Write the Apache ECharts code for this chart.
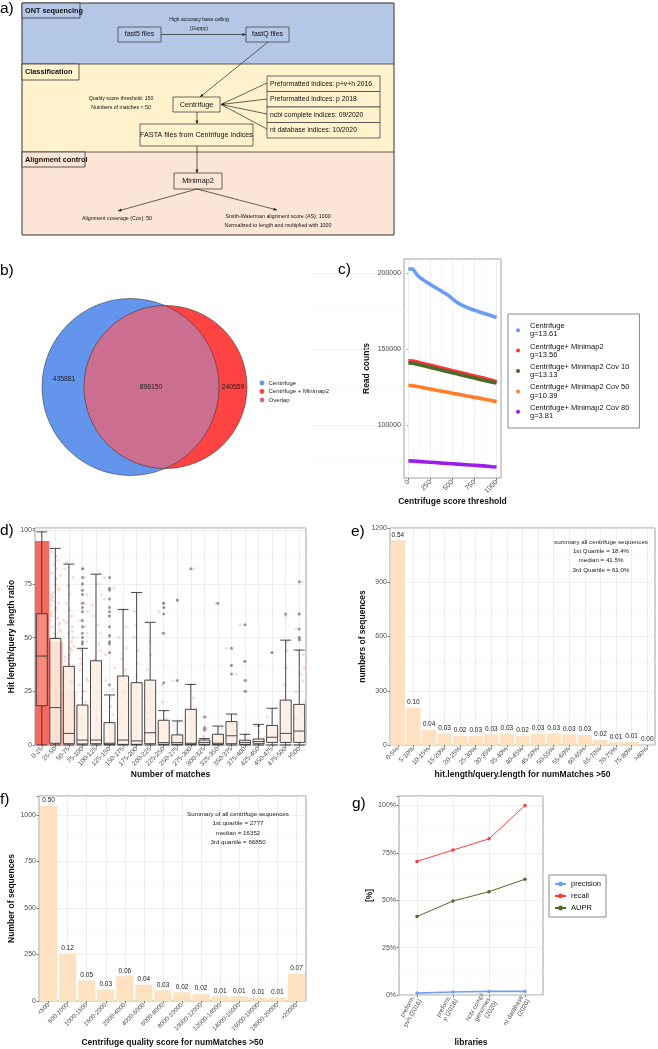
<!DOCTYPE html>
<html><head><meta charset="utf-8">
<script src="https://cdn.jsdelivr.net/npm/echarts@6/dist/echarts.min.js"></script>
<style>html,body{margin:0;padding:0;background:#fff}#c{width:658px;height:1049px}</style>
</head><body><div id="c"></div><script>
// ---------------- DATA ----------------
// panel b (Venn)
const vennCounts = [435881, 896150, 240559];
const vennLegend = ['Centrifuge', 'Centrifuge + Minimap2', 'Overlap'];
// panel c
const cThreshold = [0,50,100,150,200,250,300,350,400,450,500,550,600,650,700,750,800,850,900,950,1000];
const cNames = ['Centrifuge\ng=13.61','Centrifuge+ Minimap2\ng=13.56','Centrifuge+ Minimap2 Cov 10\ng=13.13','Centrifuge+ Minimap2 Cov 50\ng=10.39','Centrifuge+ Minimap2 Cov 80\ng=3.81'];
const cCentrifuge = [203000,203000,199000,196500,194500,192800,191000,189300,187500,185800,183300,181000,179300,178000,176800,175800,174800,173900,173000,172000,171100];
const cMinimap2 = [142500,142400,141700,141000,140300,139600,138900,138200,137500,136800,136100,135400,134700,134000,133300,132600,131900,131200,130400,129600,128800];
const cCov10 = [141200,141000,140300,139600,138900,138200,137500,136800,136100,135400,134700,134000,133300,132600,131900,131200,130500,129800,129100,128500,127900];
const cCov50 = [126300,126200,125700,125100,124500,124000,123400,122900,122300,121800,121200,120700,120200,119600,119100,118500,118000,117400,116900,116300,115700];
const cCov80 = [76700,76600,76400,76200,76000,75800,75600,75400,75200,75000,74800,74600,74400,74200,74000,73800,73600,73400,73200,72900,72700];
const cXTicks = [0,250,500,750,1000];
const cYTicks = [100000,150000,200000];
// panel d
const dCats = ['0-25','25-50','50-75','75-100','100-125','125-150','150-175','175-200','200-225','225-250','250-275','275-300','300-325','325-350','350-375','375-400','425-450','450-475','475-500','>500'];
const dMin = [0,0,0,0,0,0,0,0,0,0,0,0,0,0,0,0,0,0,0,0];
const dQ1 = [18.3,0.8,0.6,0.5,0.6,0.3,0.3,0.3,0.6,0.3,0.3,0.3,0.3,0.3,0.6,0.3,0.6,1.2,1.2,1.2];
const dMed = [41.4,17.4,5.4,2.3,2.3,0.8,2.3,1.9,5.7,1.1,1.1,0.8,1.2,0.8,4.3,1.2,1.6,3.6,5.4,6.5];
const dQ3 = [61.1,49.6,36.6,18.6,39.2,10.4,32.1,29.0,30.2,11.5,4.7,16.6,2.3,5.0,10.9,2.2,2.8,9.1,20.9,18.9];
const dMax = [99.2,91.5,84.2,45.0,79.5,23.3,63.1,71.0,57.1,16.0,11.2,28.2,3.0,8.8,14.4,5.0,9.6,17.1,48.8,44.2];
const dCloud = [95,48,25,0,0,0,0,0,0,0,0,0,0,0,0,0,0,0,0,0];
const dJitter = [
 [],
 [50,52,54,55,57,58,60,61,63,64,66,67,69,70,72,73,75,77,78,80,82,84,86,88,90,56,62,68,74,53,59,65,71,79],
 [26,28,30,32,34,36,38,40,42,44,46,48,50,53,55,58,60,63,66,70,74,78,82,85,29,33,37,41,45,52,57,31,39],
 [5,8,12,15,18,22,25,28,31,35,40,44,48,52,55,58,62,66,70,74,78,82,10,20,30,38],
 [4,8,12,16,20,24,27,30,33,36,40,44,47,52,56,60,65,70,75,80,14,22,34],
 [3,6,10,14,18,22,26,30,36,42,50,60,68,73,78],
 [5,10,15,20,25,30,35,40,45,50,55,63,12,28],
 [4,8,14,20,26,32,38,44,50,56,62,70,18],
 [5,10,15,22,28,35,42,48,57,12],
 [3,8,12,16,20,28,52,62,64,66],
 [2,5,9,11,30,67],
 [3,8,12,17,22,28,82],
 [1,4,7,8,13],
 [2,5,8,66],
 [3,7,10,14,33,37,45],
 [1,3,5,25,30,39,56],
 [1,3,6,9],
 [2,5,9,13,17,43],
 [3,8,14,20,28,36,44,48,60],
 [2,6,10,15,20,25,30,36,42,44,49,54,61,76,4,12,33]
];
const dOutliers = [[],[],[],[47,48,50,52,55,58,62,64,66,70,72,75,78,82],[],[28,43,47,48,51,55,60,62,64,68,72,73,78],[],[],[],[29,52,61,64,66],[30,67.5],[82],[7,8,13],[66],[33,37,45],[25,30,39,56],[9],[43],[61],[49,50,54,61,76]];
// panel e
const eCats = ['0-5%','5-10%','10-15%','15-20%','20-25%','25-30%','30-35%','35-40%','40-45%','45-50%','50-55%','55-60%','60-65%','65-70%','70-75%','75-80%','>80%'];
const eCounts = [1132,206,83,63,50,50,59,63,50,63,63,59,55,28,15,17,1];
const eShares = ['0.54','0.10','0.04','0.03','0.02','0.03','0.03','0.03','0.02','0.03','0.03','0.03','0.03','0.02','0.01','0.01','0.00'];
const eNote = ['summary all centrifuge sequences','1st Quartile = 18.4%','median = 41.5%','3rd Quartile = 61.0%'];
// panel f
const fCats = ['<500','500-1000','1000-1500','1500-2000','2000-4000','4000-6000','6000-8000','8000-10000','10000-12000','12000-14000','14000-16000','16000-18000','18000-20000','>20000'];
const fCounts = [1048,255,110,61,133,88,57,47,38,25,25,18,18,147];
const fShares = ['0.50','0.12','0.05','0.03','0.06','0.04','0.03','0.02','0.02','0.01','0.01','0.01','0.01','0.07'];
const fNote = ['Summary of all centrifuge sequences','1st quartile = 2777','median = 16352','3rd quartile = 66850'];
// panel g
const gCats = ['preform.\npvh (2016)','preform.\np (2018)','ncbi compl\ngenomes\n(2020)','nt database\n(2020)'];
const gPrecision = [0.010,0.016,0.019,0.019];
const gRecall = [0.705,0.765,0.824,1.0];
const gAUPR = [0.414,0.496,0.545,0.611];

// ---------------- STYLE HELPERS ----------------
const FONT = '"Liberation Sans", Arial, sans-serif';
const AX = '#4d4d4d';
const GRIDC = '#e3e3e3';
const MINC = '#f1f1f1';
const BORDER = '#8c8c8c';
const titleStyle = {fontSize: 8.5, fontWeight: 'bold', color: '#111', fontFamily: FONT};

function T(x, y, text, size, o) {
  o = o || {};
  return {type: 'text', x: x, y: y, z: 10, style: {text: text, fontSize: size, fontFamily: o.ff || FONT,
    fontWeight: o.bold ? 'bold' : 'normal', fill: o.fill || '#111', align: o.align || 'center',
    verticalAlign: 'middle'}};
}
function R(x, y, w, h, fill, stroke, lw) {
  return {type: 'rect', shape: {x: x, y: y, width: w, height: h}, style: {fill: fill || 'none', stroke: stroke || 'none', lineWidth: lw || 0.8}};
}
function L(x1, y1, x2, y2, arrow) {
  const out = [{type: 'line', shape: {x1: x1, y1: y1, x2: x2, y2: y2}, style: {stroke: '#222', lineWidth: 0.7}}];
  if (arrow) {
    const a = Math.atan2(y2 - y1, x2 - x1), Ln = 3.5, W = 1.5;
    out.push({type: 'polygon', shape: {points: [[x2, y2],
      [x2 - Ln * Math.cos(a) + W * Math.sin(a), y2 - Ln * Math.sin(a) - W * Math.cos(a)],
      [x2 - Ln * Math.cos(a) - W * Math.sin(a), y2 - Ln * Math.sin(a) + W * Math.cos(a)]]}, style: {fill: '#222'}});
  }
  return out;
}

// ---------------- GRAPHIC: panel a (flowchart) ----------------
const G = [];
G.push(R(22, 3, 372, 61, '#b4c7e7'));
G.push(R(22, 64, 372, 88, '#fff2cc'));
G.push(R(22, 152, 372, 83, '#fbe5d6'));
G.push(R(22, 3, 372, 232, null, '#333', 1));
G.push(...L(22, 64, 394, 64), ...L(22, 152, 394, 152));
G.push(R(22, 3, 58, 15, '#b4c7e7', '#333', 0.8), T(25, 10.5, 'ONT sequencing', 7.3, {bold: 1, align: 'left'}));
G.push(R(22, 64, 57, 16, '#fff2cc', '#333', 0.8), T(25, 72, 'Classification', 7.3, {bold: 1, align: 'left'}));
G.push(R(22, 152, 63, 15, '#fbe5d6', '#333', 0.8), T(25, 159.5, 'Alignment control', 7.3, {bold: 1, align: 'left'}));
G.push(R(118, 27, 43, 15, '#b4c7e7', '#444', 0.8), T(139.5, 34.5, 'fast5 files', 7));
G.push(R(246, 27, 43, 15, '#b4c7e7', '#444', 0.8), T(267.5, 34.5, 'fastQ files', 7));
G.push(...L(161, 34.5, 246, 34.5, true));
G.push(T(199, 19.5, 'High accuracy base calling', 5), T(199, 28.5, '(Guppy)', 5));
G.push(...L(268, 42, 200, 97, true));
G.push(R(173, 97, 47, 15, '#fff2cc', '#444', 0.8), T(196.5, 104.5, 'Centrifuge', 7.3));
const idx = ['Preformatted indices: p+v+h 2016', 'Preformatted indices: p 2018', 'ncbi complete indices: 09/2020', 'nt database indices: 10/2020'];
const idxY = [76, 91.5, 107, 122.5];
idx.forEach((t, i) => { G.push(R(267, idxY[i], 113, 15.5, '#fff2cc', '#444', 0.8), T(270, idxY[i] + 7.8, t, 6.8, {align: 'left'})); });
[83, 99, 114, 129].forEach(y => G.push(...L(267, y, 221, 104.5, y === 99)));
G.push(T(121, 99, 'Quality score threshold: 150', 5.2), T(121, 108, 'Numbers of matches < 50', 5.2));
G.push(...L(197, 112, 197, 124, true));
G.push(R(140, 124, 113, 22, '#fff2cc', '#444', 0.8), T(196.5, 135, 'FASTA files from Centrifuge indices', 7.2));
G.push(...L(197, 146, 197, 173, true));
G.push(R(174, 173, 48, 16, '#fbe5d6', '#444', 0.8), T(198, 181, 'Minimap2', 7.3));
G.push(...L(197, 189, 118, 211, true), ...L(197, 189, 277, 210, true));
G.push(T(117, 219, 'Alignment coverage (Cov): 50', 5.3));
G.push(T(278, 217, 'Smith-Waterman alignment score (AS): 1000', 5.3), T(278, 226, 'Normalized to length and multiplied with 1000', 5.3));

// ---------------- GRAPHIC: panel b (Venn) ----------------
const vb = {cx: 130.5, cy: 387, r: 88.5}, vr = {cx: 165.5, cy: 387, r: 81.5};
function lens() {
  const d = vr.cx - vb.cx, a = (d * d + vb.r * vb.r - vr.r * vr.r) / (2 * d), h = Math.sqrt(vb.r * vb.r - a * a), ix = vb.cx + a;
  const pts = [];
  const tR = Math.atan2(-h, ix - vr.cx), bR = Math.atan2(h, ix - vr.cx) - 2 * Math.PI;
  for (let i = 0; i <= 80; i++) { const t = tR + (bR - tR) * i / 80; pts.push([vr.cx + vr.r * Math.cos(t), vr.cy + vr.r * Math.sin(t)]); }
  const bB = Math.atan2(h, a), tB = Math.atan2(-h, a);
  for (let i = 0; i <= 80; i++) { const t = bB + (tB - bB) * i / 80; pts.push([vb.cx + vb.r * Math.cos(t), vb.cy + vb.r * Math.sin(t)]); }
  return pts;
}
G.push({type: 'circle', shape: {cx: vb.cx, cy: vb.cy, r: vb.r}, style: {fill: '#6495ed'}});
G.push({type: 'circle', shape: {cx: vr.cx, cy: vr.cy, r: vr.r}, style: {fill: '#ff4242'}});
G.push({type: 'polygon', shape: {points: lens()}, style: {fill: '#cc6e8f'}});
G.push({type: 'circle', shape: {cx: vb.cx, cy: vb.cy, r: vb.r}, style: {fill: 'none', stroke: '#3a3a3a', lineWidth: 0.6}});
G.push({type: 'circle', shape: {cx: vr.cx, cy: vr.cy, r: vr.r}, style: {fill: 'none', stroke: '#3a3a3a', lineWidth: 0.6}});
G.push(T(64, 379, String(vennCounts[0]), 6.8, {fill: '#222'}), T(151, 387, String(vennCounts[1]), 6.8, {fill: '#222'}), T(233, 387, String(vennCounts[2]), 6.8, {fill: '#222'}));
const vCol = ['#6495ed', '#ff4242', '#cc6e8f'];
[383, 391.5, 400].forEach((y, i) => {
  G.push({type: 'circle', shape: {cx: 262, cy: y, r: 2.4}, style: {fill: vCol[i]}});
  G.push(T(268.5, y, vennLegend[i], 6, {align: 'left', fill: '#222'}));
});

// panel labels
[['a)', 0, 9], ['b)', 0, 271], ['c)', 338, 270], ['d)', 0, 531], ['e)', 351, 532], ['f)', 0, 800], ['g)', 352, 804]]
  .forEach(p => G.push(T(p[1], p[2], p[0], 15.5, {align: 'left', fill: '#000'})));
// annotations e / f
eNote.forEach((t, i) => G.push(T(601, 542 + i * 9.3, t, 6.2, {fill: '#222'})));
fNote.forEach((t, i) => G.push(T(238, 814 + i * 9.4, t, 6.2, {fill: '#222'})));

// ---------------- AXES ----------------
const plain = v => String(v);
const lblBase = {color: AX, fontSize: 7, fontFamily: FONT};
const tickBase = {show: true, length: 2.5, lineStyle: {color: '#333', width: 0.6}};
function catMain(grid, data, rot, name, gap, fs) {
  return {gridIndex: grid, type: 'category', data: data, position: 'bottom', axisLine: {show: false},
    axisTick: Object.assign({alignWithLabel: true, interval: 0}, tickBase),
    axisLabel: Object.assign({}, lblBase, {interval: 0, rotate: rot, fontSize: fs || 6.5, margin: 3, lineHeight: 7.5}),
    splitLine: {show: false}, name: name, nameLocation: 'middle', nameGap: gap, nameTextStyle: titleStyle};
}
function catGridAxis(grid, data, h, extra) {
  return Object.assign({gridIndex: grid, type: 'category', data: data, position: 'top', axisLine: {show: false}, axisLabel: {show: false},
    axisTick: {show: true, inside: true, alignWithLabel: true, interval: 0, length: h, lineStyle: {color: GRIDC, width: 0.6}},
    splitLine: {show: false}}, extra || {});
}
function valY(grid, min, max, interval, name, gap, fmt) {
  return {gridIndex: grid, type: 'value', min: min, max: max, interval: interval, axisLine: {show: false},
    axisTick: tickBase, axisLabel: Object.assign({}, lblBase, {margin: 3, formatter: fmt}),
    splitLine: {show: true, lineStyle: {color: GRIDC, width: 0.6}},
    minorTick: {show: false, splitNumber: 2}, minorSplitLine: {show: true, lineStyle: {color: MINC, width: 0.5}},
    name: name, nameLocation: 'middle', nameGap: gap, nameRotate: 90, nameTextStyle: titleStyle};
}

const xAxis = [
  // 0: c main
  {gridIndex: 0, type: 'value', min: -50, max: 1050, axisLine: {show: false},
   axisTick: Object.assign({customValues: cXTicks}, tickBase),
   axisLabel: Object.assign({}, lblBase, {customValues: cXTicks, rotate: 45, margin: 3, formatter: plain}),
   splitLine: {show: false}, name: 'Centrifuge score threshold', nameLocation: 'middle', nameGap: 18, nameTextStyle: titleStyle},
  // 1: c major vertical grid
  {gridIndex: 0, type: 'value', min: -50, max: 1050, position: 'top', axisLine: {show: false}, axisLabel: {show: false}, splitLine: {show: false},
   axisTick: {show: true, inside: true, length: 219, customValues: cXTicks, lineStyle: {color: GRIDC, width: 0.6}}},
  // 2: c minor vertical grid
  {gridIndex: 0, type: 'value', min: -50, max: 1050, position: 'top', axisLine: {show: false}, axisLabel: {show: false}, splitLine: {show: false},
   axisTick: {show: true, inside: true, length: 219, customValues: [125, 375, 625, 875], lineStyle: {color: MINC, width: 0.5}}},
  // 3: d main
  catMain(1, dCats, 45, 'Number of matches', 24),
  // 4: d grid + jitter
  catGridAxis(1, dCats, 217, {jitter: 11, jitterOverlap: true}),
  // 5: e main
  catMain(2, eCats, 45, 'hit.length/query.length for numMatches >50', 25),
  catGridAxis(2, eCats, 217),
  // 7: f main
  catMain(3, fCats, 45, 'Centrifuge quality score for numMatches >50', 37, 6.2),
  catGridAxis(3, fCats, 205),
  // 9: g main
  catMain(4, gCats, 60, 'libraries', 43, 6.4),
  catGridAxis(4, gCats, 199)
];
const yAxis = [
  // 0: c main
  {gridIndex: 0, type: 'value', min: 65450, max: 209550, splitNumber: 3, axisLine: {show: false},
   axisTick: Object.assign({customValues: cYTicks}, tickBase),
   axisLabel: Object.assign({}, lblBase, {customValues: cYTicks, margin: 3, formatter: plain}),
   splitLine: {show: false}, name: 'Read counts', nameLocation: 'middle', nameGap: 33, nameRotate: 90, nameTextStyle: titleStyle},
  {gridIndex: 0, type: 'value', min: 65450, max: 209550, position: 'right', axisLine: {show: false}, axisLabel: {show: false}, splitLine: {show: false},
   axisTick: {show: true, inside: true, length: 97, customValues: cYTicks, lineStyle: {color: GRIDC, width: 0.6}}},
  {gridIndex: 0, type: 'value', min: 65450, max: 209550, position: 'right', axisLine: {show: false}, axisLabel: {show: false}, splitLine: {show: false},
   axisTick: {show: true, inside: true, length: 97, customValues: [75000, 125000, 175000], lineStyle: {color: MINC, width: 0.5}}},
  // 3: d
  valY(1, 0, 101, 25, 'Hit length/query length ratio', 16, v => (v % 25 === 0 ? String(v) : '')),
  // 4: e
  valY(2, 0, 1200, 300, 'numbers of sequences', 19, plain),
  // 5: f
  valY(3, 0, 1102, 250, 'Number of sequences', 21, v => (v % 250 === 0 ? String(v) : '')),
  // 6: g
  valY(4, 0, 1.05, 0.25, '[%]', 23, v => (Math.abs(v * 4 - Math.round(v * 4)) < 1e-6 ? Math.round(v * 100) + '%' : ''))
];

const gridBase = {show: true, borderColor: BORDER, borderWidth: 0.8, backgroundColor: '#fff', containLabel: false};
const grid = [
  Object.assign({left: 404, top: 259, width: 97, height: 219}, gridBase),
  Object.assign({left: 35, top: 528, width: 271, height: 217}, gridBase),
  Object.assign({left: 390, top: 528, width: 265, height: 217}, gridBase),
  Object.assign({left: 39, top: 796, width: 267, height: 205}, gridBase),
  Object.assign({left: 399, top: 796, width: 144, height: 199}, gridBase)
];

// ---------------- SERIES ----------------
const series = [];
const cSeriesData = [cCentrifuge, cMinimap2, cCov10, cCov50, cCov80];
const cColors = ['#6a9cf5', '#ff3535', '#4a6b2c', '#ff7d26', '#9a1ee8'];
cSeriesData.forEach((arr, k) => {
  series.push({type: 'line', name: cNames[k], xAxisIndex: 0, yAxisIndex: 0, data: cThreshold.map((t, i) => [t, arr[i]]),
    showSymbol: false, symbol: 'circle', lineStyle: {width: 3.6, color: cColors[k]}, itemStyle: {color: cColors[k]}, z: 3 + k, silent: true});
});
// d: point cloud bars
const cloudCol = ['rgba(243,98,86,0.95)', 'rgba(244,106,95,0.42)', 'rgba(244,106,95,0.2)'];
series.push({type: 'bar', xAxisIndex: 3, yAxisIndex: 3, barWidth: 15, z: 1, silent: true,
  data: dCloud.map((v, i) => ({value: v, itemStyle: {color: cloudCol[i] || 'rgba(0,0,0,0)'}}))});
// d: jittered points
const jit = [];
dJitter.forEach((arr, i) => arr.forEach(v => jit.push([i, v])));
series.push({type: 'scatter', xAxisIndex: 4, yAxisIndex: 3, data: jit, symbolSize: 3, z: 2, silent: true,
  itemStyle: {color: 'rgba(244,118,108,0.35)'}});
// d: boxes
series.push({type: 'boxplot', xAxisIndex: 3, yAxisIndex: 3, z: 3, silent: true, boxWidth: [11, 11],
  itemStyle: {color: 'rgba(253,236,222,0.72)', borderColor: '#333', borderWidth: 0.9},
  data: dCats.map((c, i) => {
    const o = {value: [dMin[i], dQ1[i], dMed[i], dQ3[i], dMax[i]]};
    if (i === 0) o.itemStyle = {color: 'rgba(246,140,126,0.92)', borderColor: '#333', borderWidth: 0.9};
    return o;
  })});
// d: outliers
const outl = [];
dOutliers.forEach((arr, i) => arr.forEach(v => outl.push([i, v])));
series.push({type: 'scatter', xAxisIndex: 3, yAxisIndex: 3, data: outl, symbolSize: 3, z: 4, silent: true,
  itemStyle: {color: 'rgba(50,50,50,0.6)'}});
// e
const barLbl = arr => ({show: true, position: 'top', distance: 2, fontSize: 6.5, color: '#222', fontFamily: FONT, formatter: p => arr[p.dataIndex]});
series.push({type: 'bar', xAxisIndex: 5, yAxisIndex: 4, data: eCounts, barWidth: '92%', itemStyle: {color: '#fde1c1'}, label: barLbl(eShares), z: 3, silent: true});
// f
series.push({type: 'bar', xAxisIndex: 7, yAxisIndex: 5, data: fCounts, barWidth: '90%', itemStyle: {color: '#fde1c1'}, label: barLbl(fShares), z: 3, silent: true});
// g
const gCol = ['#6fa0f5', '#ff3b3b', '#4b6b26'];
[['precision', gPrecision], ['recall', gRecall], ['AUPR', gAUPR]].forEach((s, k) => {
  series.push({type: 'line', name: s[0], xAxisIndex: 9, yAxisIndex: 6, data: s[1], symbol: 'circle', symbolSize: 3.5,
    lineStyle: {width: k === 0 ? 1.6 : 1, color: gCol[k]}, itemStyle: {color: gCol[k]}, z: 3, silent: true});
});

// ---------------- LEGENDS ----------------
const legend = [
  {data: cNames, left: 508, top: 314, orient: 'vertical', icon: 'circle', itemWidth: 14, itemHeight: 4, itemGap: 4,
   padding: [8, 10, 8, 8], borderColor: '#888', borderWidth: 1, backgroundColor: '#fff', selectedMode: false,
   textStyle: {fontSize: 7.5, lineHeight: 8.2, color: '#111', fontFamily: FONT}},
  {data: ['precision', 'recall', 'AUPR'], left: 549, top: 875, orient: 'vertical', itemWidth: 11, itemHeight: 6, itemGap: 4,
   padding: [5, 5, 5, 5], borderColor: '#888', borderWidth: 1, backgroundColor: '#fff', selectedMode: false,
   textStyle: {fontSize: 7.5, color: '#111', fontFamily: FONT}}
];

const chart = echarts.init(document.getElementById('c'), null, {renderer: 'canvas'});
chart.setOption({
  animation: false,
  backgroundColor: '#fff',
  textStyle: {fontFamily: FONT},
  grid: grid, xAxis: xAxis, yAxis: yAxis, series: series, legend: legend,
  graphic: {elements: G}
});
</script></body></html>
